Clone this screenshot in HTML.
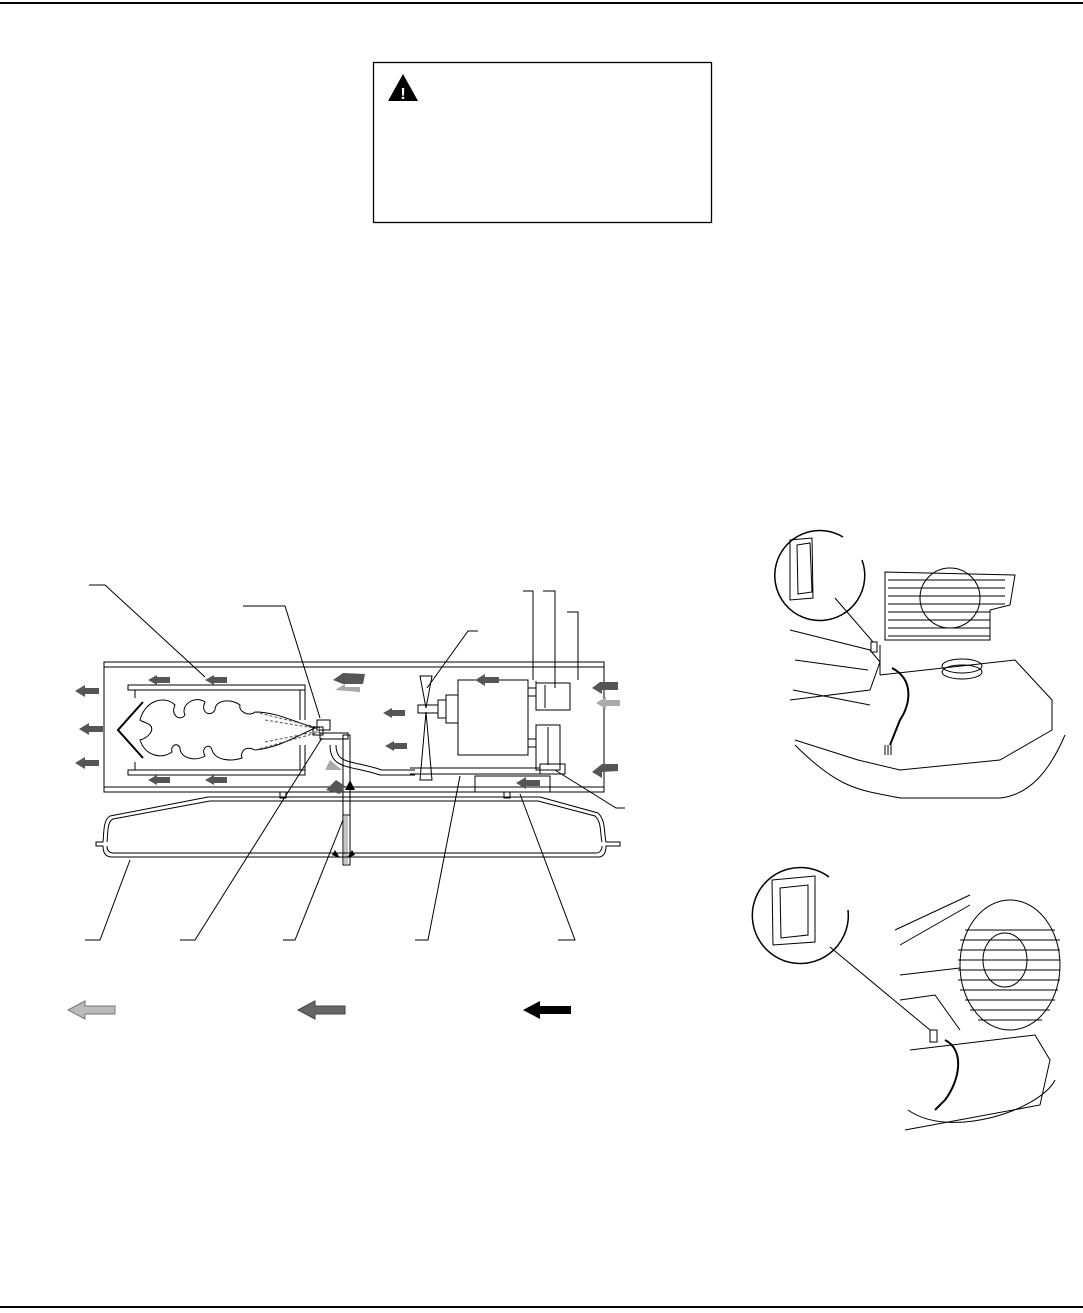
<!DOCTYPE html>
<html><head><meta charset="utf-8"><style>
html,body{margin:0;padding:0;background:#fff;width:1083px;height:1313px;overflow:hidden;font-family:"Liberation Sans",sans-serif}
</style></head><body>
<svg width="1083" height="1313" viewBox="0 0 1083 1313" xmlns="http://www.w3.org/2000/svg">
<defs>
<path id="a" d="M0 0 L10 -6 V-3 H24 V3 H10 V6 Z"/>
<path id="s" d="M0 0 L9 -5 V-3 H22 V3 H9 V5 Z"/>
</defs>
<line x1="0" y1="3" x2="1083" y2="3" stroke="#000" stroke-width="2"/>
<line x1="0" y1="1307" x2="1083" y2="1307" stroke="#000" stroke-width="2"/>
<rect x="373.5" y="62.5" width="338" height="160" fill="none" stroke="#000" stroke-width="1.3"/>
<polygon points="403,74 418,101 388,101" fill="#000"/>
<text x="403" y="99" font-size="16" font-weight="bold" fill="#fff" text-anchor="middle">!</text>

<g fill="none" stroke="#000" stroke-width="1">
<rect x="104" y="662" width="500" height="130"/>
<path d="M104 667 H604 M104 787 H604"/>
<path d="M128 685 H305 V690 H128 Z M128 770 H305 V775 H128 Z"/>
<path d="M135 690 V698 M135 770 V762 M305 690 V720 M305 770 V745 M300 690 V720 M300 770 V745"/>
<path d="M143 702 L118 730 L143 758" stroke-width="2"/>
<path d="M140 720 C145 700 165 695 175 705 C170 715 180 722 185 715 C180 705 195 695 205 702 C200 712 210 718 215 710 C215 700 230 698 240 705 C238 712 250 717 255 712 C275 712 290 720 315 728 C290 740 275 748 255 750 C245 745 240 752 242 758 C230 762 215 760 212 750 C210 742 200 748 205 756 C195 762 180 758 180 748 C178 742 170 745 172 752 C160 760 145 755 140 740 C148 738 155 730 150 725 C146 722 142 722 140 720 Z"/>
<path d="M255 712 L320 728 M255 750 L320 732 M265 720 L320 729 M265 742 L320 731" stroke-dasharray="3,2" stroke="#555"/>
<rect x="317" y="720" width="13" height="10"/>
<rect x="313" y="727" width="10" height="8"/>
<rect x="320" y="733" width="28" height="6"/>
<rect x="343" y="735" width="7" height="80"/>
<rect x="343" y="815" width="7" height="50"/>
<path d="M345 815 V865 M347 815 V865" stroke="#888"/>
<path d="M330 745 C330 770 350 765 380 775 L415 775 M336 745 C336 765 352 760 382 770 L415 770"/>
<polygon points="420,676 432,676 426,708"/>
<polygon points="426,712 420,780 432,780"/>
<rect x="418" y="705" width="20" height="8"/>
<rect x="438" y="700" width="8" height="18"/>
<rect x="446" y="695" width="12" height="28"/>
<rect x="458" y="680" width="70" height="75"/>
<rect x="528" y="688" width="8" height="8"/><rect x="528" y="739" width="8" height="8"/>
<path d="M536 681 V710 H570 V683 H536 M536 725 H560 V770 H536 Z"/>
<path d="M545 685 V708 M548 727 V765"/>
<rect x="540" y="764" width="25" height="10"/>
<path d="M410 768 H540 M410 774 H540"/>
<rect x="475" y="776" width="75" height="16"/>
<rect x="280" y="792" width="6" height="6"/><rect x="504" y="792" width="6" height="6"/>
<path d="M208 797 H540 L598 813 C606 820 604 835 606 842 H620 V846 H606 C606 852 604 857 598 857 H112 C105 857 103 852 103 846 H96 V842 H103 C104 833 103 820 110 816 Z"/>
<path d="M210 801 H538 L595 816 C602 822 600 835 602 842 M602 846 C602 850 600 853 596 853 H114 C109 853 107 850 107 846 M107 842 C108 833 107 822 113 819 L210 801"/>
<path d="M89 585 H105 L205 677 M243 606 H285 L320 718 M478 631 H468 L427 688 M523 591 H533 V680 M543 591 H555 V688 M567 612 H578 V680 M555 770 L616 808 H625 M85 940 H100 L130 860 M180 940 H195 L322 738 M283 940 H295 L343 820 M415 940 H428 L460 776 M558 940 H575 L520 794"/>
</g>
<g fill="#555">
<use href="#a" x="75" y="691"/>
<use href="#a" x="79" y="729"/>
<use href="#a" x="75" y="763"/>
<use href="#s" x="148" y="680"/><use href="#s" x="205" y="680"/>
<use href="#s" x="148" y="780"/><use href="#s" x="205" y="780"/>
<use href="#s" x="383" y="713"/><use href="#s" x="385" y="746"/>
<use href="#a" x="475" y="680"/>
<use href="#a" x="516" y="783"/>
<polygon points="333,680 343,673 365,674 363,684 343,684"/>
<polygon points="592,688 600,682 618,682 618,690 602,690 602,694"/>
<polygon points="592,772 602,764 618,764 618,771 602,772 602,778"/>
<polygon points="326,790 336,780 345,786 340,794"/>
</g>
<g fill="#aaa">
<use href="#a" x="596" y="703"/>
<polygon points="335,690 345,684 345,687 360,687 360,692"/>
<polygon points="325,770 330,760 342,770"/>
</g>
<g fill="#000"><polygon points="345,790 350,780 355,790"/><polygon points="335,850 340,858 332,855"/><polygon points="352,850 347,858 355,855"/></g>
<polygon points="68,1010 85,1001 85,1006 115,1006 115,1014 85,1014 85,1019" fill="#bbb" stroke="#777"/>
<polygon points="298,1010 315,1001 315,1006 345,1006 345,1014 315,1014 315,1019" fill="#666" stroke="#444"/>
<polygon points="523,1010 540,1001 540,1006 571,1006 571,1014 540,1014 540,1019" fill="#000"/>

<g fill="none" stroke="#000" stroke-width="1">
<path d="M843 537 A45 45 0 1 0 862 560" stroke-width="1.5"/>
<path d="M790 540 L812 538 L813 598 L790 600 Z M797 545 L810 543 L812 592 L798 594 Z"/>
<path d="M835 598 L873 642"/>
<path d="M885 572 L1015 575 L1010 605 L990 610 L990 640 L885 640 Z"/>
<path d="M888 580 H1005 M888 588 H1005 M888 596 H1005 M888 604 H1005 M888 612 H990 M888 620 H990 M888 628 H990 M888 636 H990"/>
<circle cx="950" cy="598" r="30"/>
<path d="M790 630 L870 650 L880 662 L870 690 L790 700 M795 660 L868 670 M793 690 L870 705"/>
<rect x="871" y="642" width="6" height="10"/>
<path d="M880 645 L880 675 M880 675 L1015 660 L1052 700 L1052 730 L1000 760 L900 770 L858 760 L795 740"/>
<path d="M795 745 C840 790 860 790 900 798 L1000 798 C1030 795 1050 770 1065 735"/>
<ellipse cx="962" cy="666" rx="20" ry="7"/><ellipse cx="962" cy="672" rx="20" ry="7"/>
<path d="M892 668 C915 680 910 705 900 720 L890 745" stroke-width="2"/>
<path d="M885 745 V755 M888 745 V755 M891 745 V755"/>
</g>
<g fill="none" stroke="#000" stroke-width="1">
<path d="M829 877 A48 48 0 1 0 848 910" stroke-width="1.5"/>
<path d="M772 880 L815 876 L815 942 L773 945 Z M780 888 L808 885 L808 935 L781 938 Z"/>
<path d="M830 947 L930 1030"/>
<ellipse cx="1010" cy="965" rx="50" ry="65"/>
<ellipse cx="1005" cy="960" rx="22" ry="27"/>
<path d="M965 930 H1055 M960 940 H1060 M958 950 H1060 M958 960 H1060 M958 970 H1060 M958 980 H1060 M960 990 H1058 M965 1000 H1055 M970 1010 H1050 M978 1020 H1042"/>
<path d="M895 930 L970 895 M900 945 L970 905"/>
<path d="M900 975 L960 968 M900 1000 L935 995 L960 1030 M910 1050 L1035 1035 L1050 1060 L1040 1105 L905 1130"/>
<rect x="930" y="1030" width="7" height="12"/>
<path d="M945 1040 C965 1050 960 1080 945 1100 L935 1110" stroke-width="2"/>
<path d="M908 1110 C950 1140 1040 1110 1055 1080"/>
</g>
</svg>
</body></html>
